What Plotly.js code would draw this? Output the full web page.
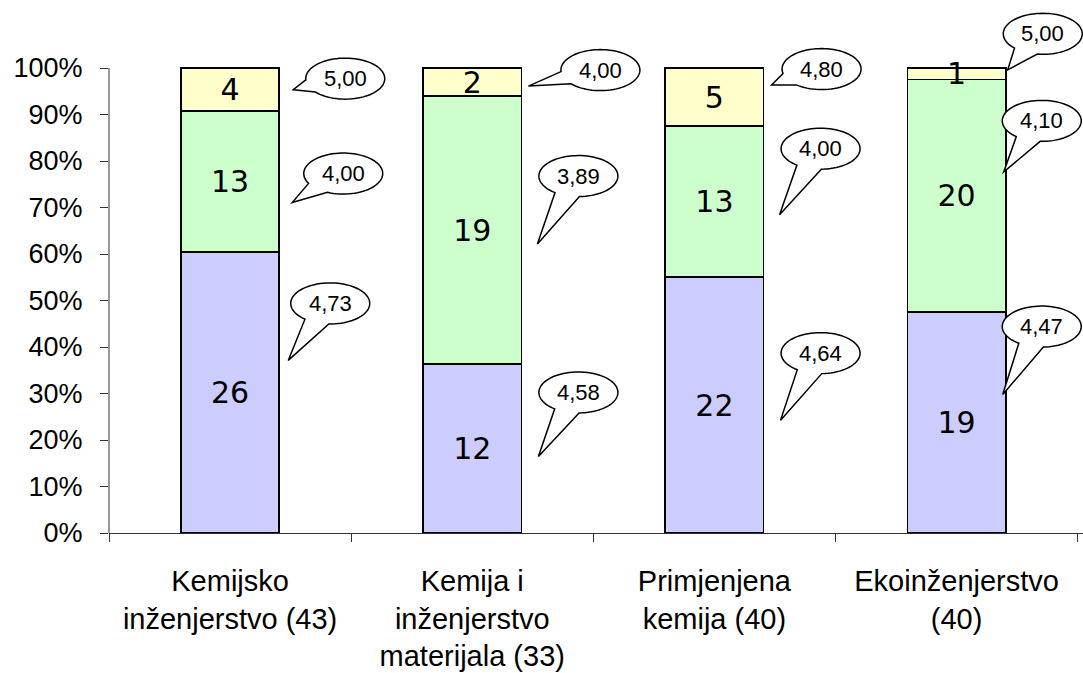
<!DOCTYPE html>
<html><head><meta charset="utf-8">
<script src="https://cdn.plot.ly/plotly-3.0.1.min.js"></script>
<style>html,body{margin:0;padding:0;background:#fff}#chart{width:1083px;height:673px}</style>
</head><body><div id="chart"></div>
<script>
// ---- data ----
const categories = ["Kemijsko<br>inženjerstvo (43)", "Kemija i<br>inženjerstvo<br>materijala (33)", "Primjenjena<br>kemija (40)", "Ekoinženjerstvo<br>(40)"];
const countsLow = [26, 12, 22, 19];
const countsMid = [13, 19, 13, 20];
const countsHigh = [4, 2, 5, 1];
const gradesLow = ["4,73", "4,58", "4,64", "4,47"];
const gradesMid = ["4,00", "3,89", "4,00", "4,10"];
const gradesHigh = ["5,00", "4,00", "4,80", "5,00"];
const yTickVals = [0, 10, 20, 30, 40, 50, 60, 70, 80, 90, 100];
const yTickText = ["0%", "10%", "20%", "30%", "40%", "50%", "60%", "70%", "80%", "90%", "100%"];

// ---- style / layout config ----
const colors = ["#CCCCFF", "#CCFFCC", "#FFFFCC"];
const barWidth = 0.406;
// callout offsets in px relative to (bar right edge, segment middle), y up:
// [tailDx, tailDy, bubbleDx, bubbleDy]
const calloutOffsets = [
  [[9, 32, 51, 89], [13, -21, 64, 8], [14, 0, 66, 11]],
  [[17, -8, 57, 56], [16, -14, 57, 54], [7, -4, 79, 12]],
  [[17, -15, 57, 52], [16, -13, 57, 53], [8, 12, 58, 28]],
  [[-3, 28, 36, 96], [-2, 24, 36, 75], [2, 4, 37, 40]]
];
const RX = 39.5, RY = 20.5, DELTA = 0.33;

const segCounts = [countsLow, countsMid, countsHigh];
const segGrades = [gradesLow, gradesMid, gradesHigh];
const segFont = {family: "DejaVu Sans, Liberation Sans, sans-serif", size: 30, color: "#000"};

const traces = segCounts.map((vals, s) => ({
  type: "bar",
  x: categories,
  y: vals,
  text: vals.map(String),
  texttemplate: "%{text}",
  textposition: "inside",
  insidetextanchor: "middle",
  textangle: 0,
  constraintext: "none",
  textfont: segFont,
  insidetextfont: segFont,
  width: barWidth,
  marker: {color: colors[s], line: {color: "#000", width: 1.6}},
  hoverinfo: "skip",
  showlegend: false
}));

function bubblePath(o) {
  const tx = o[0], ty = o[1], bx = o[2], by = o[3];
  const phi = Math.atan2((ty - by) / RY, (tx - bx) / RX);
  const n = 72;
  let d = "M" + tx.toFixed(2) + "," + ty.toFixed(2);
  for (let k = 0; k <= n; k++) {
    const a = phi + DELTA + (2 * Math.PI - 2 * DELTA) * k / n;
    const px = bx + RX * Math.cos(a), py = by + RY * Math.sin(a);
    d += " L" + px.toFixed(2) + "," + py.toFixed(2);
  }
  return d + " Z";
}

const shapes = [];
const annotations = [];
categories.forEach((cat, i) => {
  const total = countsLow[i] + countsMid[i] + countsHigh[i];
  let cum = 0;
  segCounts.forEach((vals, s) => {
    const pct = vals[i] / total * 100;
    const mid = cum + pct / 2;
    cum += pct;
    const o = calloutOffsets[i][s];
    const xa = i + barWidth / 2;
    shapes.push({
      type: "path", xref: "x", yref: "y",
      xsizemode: "pixel", ysizemode: "pixel",
      xanchor: xa, yanchor: mid,
      path: bubblePath(o),
      fillcolor: "#FFFFFF",
      line: {color: "#000", width: 1.5},
      layer: "above"
    });
    annotations.push({
      xref: "x", yref: "y", x: xa, y: mid,
      xshift: o[2], yshift: o[3],
      text: segGrades[s][i], showarrow: false,
      xanchor: "center", yanchor: "middle",
      font: {family: "Liberation Sans, Arial, sans-serif", size: 22, color: "#000"}
    });
  });
});
// y-axis line from 0% to 100%
shapes.push({type: "line", xref: "paper", yref: "y", x0: 0, x1: 0, y0: 0, y1: 100,
  line: {color: "#333", width: 1}, layer: "above"});

const layout = {
  width: 1083, height: 673,
  margin: {l: 109, r: 0, t: 5, b: 140},
  paper_bgcolor: "#fff", plot_bgcolor: "#fff",
  barmode: "stack", barnorm: "percent",
  showlegend: false,
  xaxis: {
    type: "category", tickson: "boundaries", ticks: "outside", ticklen: 8,
    tickcolor: "#333", showline: true, linecolor: "#333", linewidth: 1,
    showgrid: false, zeroline: false, ticklabelstandoff: 22,
    tickfont: {family: "Liberation Sans, Arial, sans-serif", size: 29, color: "#000"}
  },
  yaxis: {
    range: [0, 113.55], tickvals: yTickVals, ticktext: yTickText,
    ticks: "outside", ticklen: 8, tickcolor: "#333", showline: false,
    showgrid: false, zeroline: false, ticklabelstandoff: 12,
    tickfont: {family: "Liberation Sans, Arial, sans-serif", size: 27, color: "#000"}
  },
  shapes: shapes,
  annotations: annotations
};

Plotly.newPlot("chart", traces, layout, {staticPlot: true, displayModeBar: false});
</script>
</body></html>
